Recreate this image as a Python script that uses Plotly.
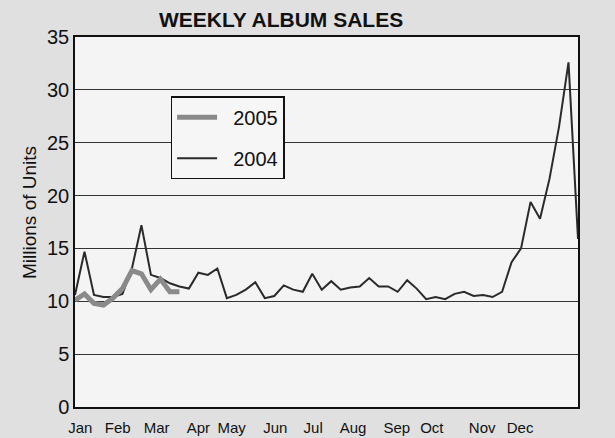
import plotly.graph_objects as go

# Weekly album sales, millions of units
sales_2004 = [10.6, 14.7, 10.6, 10.4, 10.4, 10.7, 13.1, 17.2, 12.5, 12.2,
              11.7, 11.4, 11.2, 12.7, 12.5, 13.1, 10.3, 10.6, 11.1, 11.8,
              10.3, 10.5, 11.5, 11.1, 10.9, 12.6, 11.1, 11.9, 11.1, 11.3,
              11.4, 12.2, 11.4, 11.4, 10.9, 12.0, 11.2, 10.2, 10.4, 10.2,
              10.7, 10.9, 10.5, 10.6, 10.4, 10.9, 13.7, 15.0, 19.4, 17.8,
              21.6, 26.5, 32.6, 15.9]
sales_2005 = [10.1, 10.7, 9.8, 9.65, 10.3, 11.2, 12.9, 12.6, 11.1, 12.1,
              10.9, 10.9]
month_labels = ["Jan", "Feb", "Mar", "Apr", "May", "Jun", "Jul", "Aug",
                "Sep", "Oct", "Nov", "Dec"]
month_positions = [0.55, 4.5, 8.6, 13.0, 16.5, 21.1, 25.1, 29.3, 33.9,
                   37.6, 42.9, 46.9]

weeks_2004 = list(range(len(sales_2004)))
weeks_2005 = list(range(len(sales_2005)))

fig = go.Figure()
fig.add_trace(go.Scatter(x=weeks_2004, y=sales_2004, mode="lines",
                         name="\u00a0\u00a02004",
                         line=dict(color="#2a2a2a", width=2),
                         legendgroup="b", legendrank=2))
fig.add_trace(go.Scatter(x=weeks_2005, y=sales_2005, mode="lines",
                         name="\u00a0\u00a02005",
                         line=dict(color="#8a8a8a", width=5),
                         legendgroup="a", legendrank=1))

font_family = "Liberation Sans, Arial, sans-serif"
fig.update_layout(
    width=615, height=438,
    margin=dict(l=75, r=37, t=37, b=31),
    paper_bgcolor="#e0e0e0",
    plot_bgcolor="#f4f4f4",
    font=dict(family=font_family, color="#111"),
    title=dict(text="<b>WEEKLY ALBUM SALES</b>", x=0.457, xanchor="center",
               y=0.955, yanchor="middle", font=dict(size=21, color="#111")),
    showlegend=True,
    legend=dict(x=0.19, y=0.84, xanchor="left", yanchor="top",
                bgcolor="#f6f6f6", bordercolor="#111", borderwidth=1.5,
                font=dict(size=20, color="#111"),
                traceorder="grouped",
                tracegroupgap=12, itemwidth=40, entrywidth=112,
                entrywidthmode="pixels"),
    xaxis=dict(range=[0, 53], tickvals=month_positions, ticktext=month_labels,
               showgrid=False, zeroline=False, showline=True, linecolor="#111",
               linewidth=1.5, mirror=True, ticks="", ticklabelstandoff=6,
               automargin=False,
               tickfont=dict(size=15, color="#111")),
    yaxis=dict(range=[0, 35], tickvals=[0, 5, 10, 15, 20, 25, 30, 35],
               showgrid=True, gridcolor="#333", gridwidth=1, zeroline=False,
               showline=True, linecolor="#111", linewidth=1.5, mirror=True,
               ticks="", tickfont=dict(size=20, color="#111"),
               automargin=False),
    annotations=[dict(text="Millions of Units", textangle=-90,
                      xref="paper", yref="paper", x=-0.0915, y=0.527,
                      xanchor="center", yanchor="middle", showarrow=False,
                      font=dict(size=19, color="#111"))],
)

fig.write_html("out.html")
